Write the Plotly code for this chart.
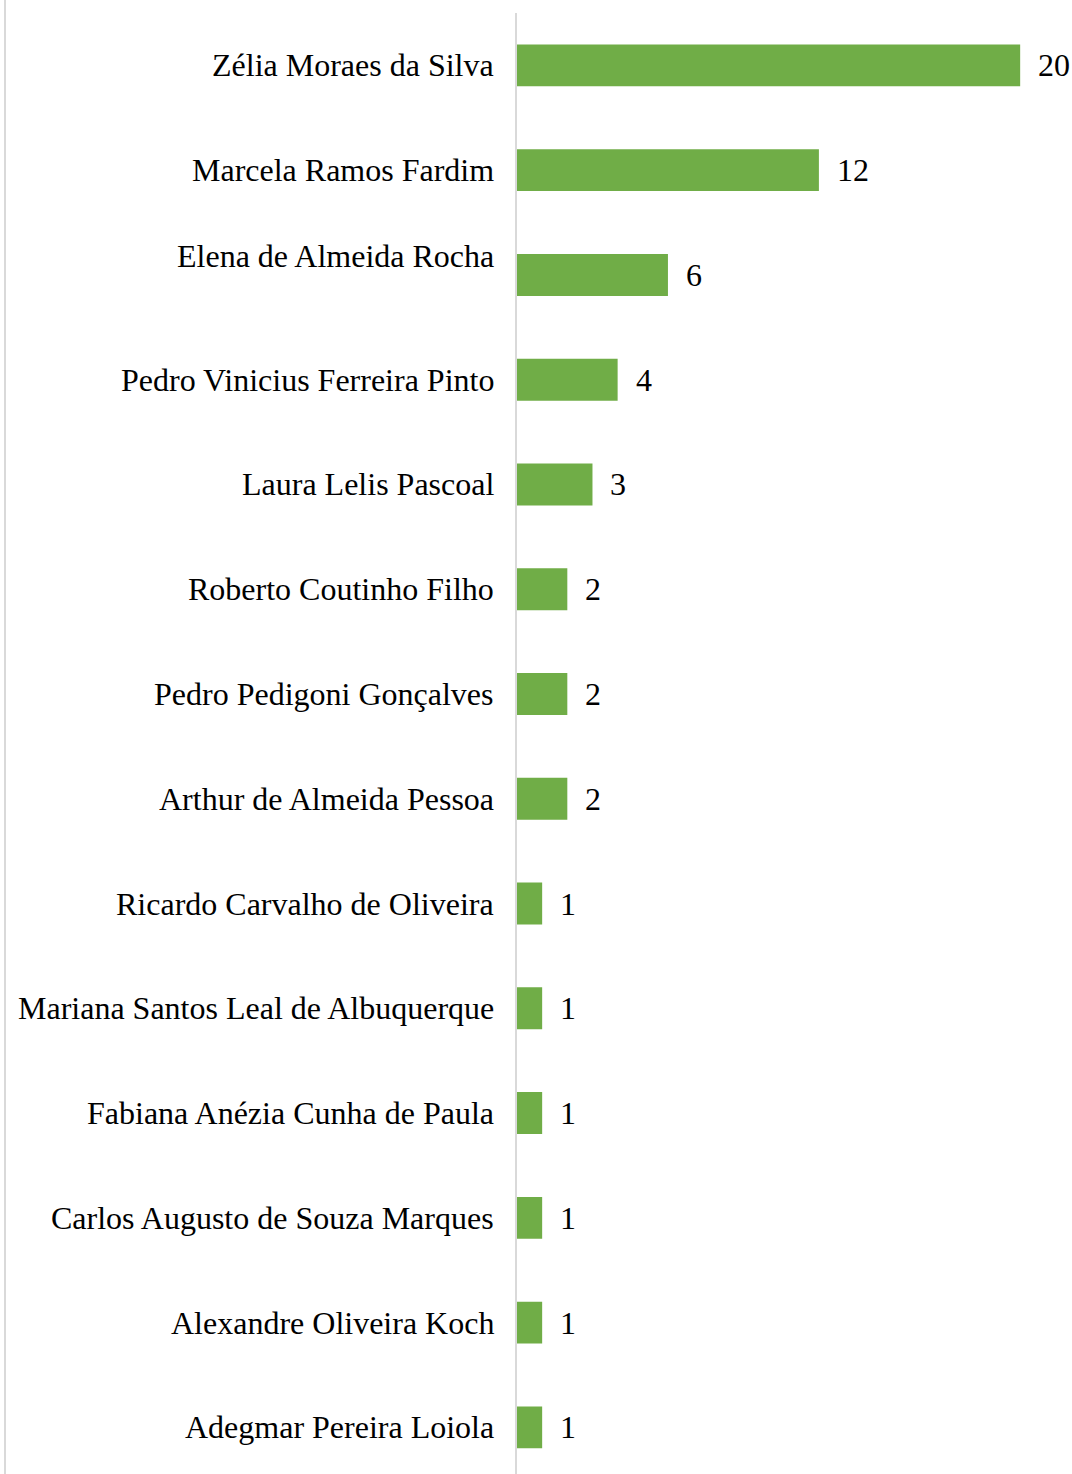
import plotly.graph_objects as go

names = [
    "Zélia Moraes da Silva",
    "Marcela Ramos Fardim",
    "Elena de Almeida Rocha",
    "Pedro Vinicius Ferreira Pinto",
    "Laura Lelis Pascoal",
    "Roberto Coutinho Filho",
    "Pedro Pedigoni Gonçalves",
    "Arthur de Almeida Pessoa",
    "Ricardo Carvalho de Oliveira",
    "Mariana Santos Leal de Albuquerque",
    "Fabiana Anézia Cunha de Paula",
    "Carlos Augusto de Souza Marques",
    "Alexandre Oliveira Koch",
    "Adegmar Pereira Loiola",
]
counts = [20, 12, 6, 4, 3, 2, 2, 2, 1, 1, 1, 1, 1, 1]

FONT = "Liberation Serif, Times New Roman, serif"
GREEN = "#70AD47"
FS = 32

fig = go.Figure(go.Bar(
    x=counts, y=names, orientation="h",
    marker=dict(color=GREEN, line=dict(width=0)),
    width=0.4,
))

# value labels
for n, c in zip(names, counts):
    fig.add_annotation(x=c, y=n, xref="x", yref="y", text=str(c),
                       showarrow=False, xanchor="left", xshift=16,
                       font=dict(family=FONT, size=FS, color="black"))

# category labels (the "Elena" label sits slightly higher in the original)
label_shift = {"Elena de Almeida Rocha": 19}
for n in names:
    fig.add_annotation(x=0, y=n, xref="paper", yref="y", text=n,
                       showarrow=False, xanchor="right", xshift=-21,
                       yshift=label_shift.get(n, 0),
                       font=dict(family=FONT, size=FS, color="black"))

# left border line
fig.add_shape(type="line", xref="paper", yref="paper",
              x0=-512/555, x1=-512/555, y0=0, y1=1.01,
              line=dict(color="#D9D9D9", width=2))

fig.update_layout(
    width=1072, height=1474,
    margin=dict(l=517, r=0, t=13, b=0),
    plot_bgcolor="white", paper_bgcolor="white",
    showlegend=False,
    xaxis=dict(range=[0, 22.06], visible=False, showgrid=False, zeroline=False),
    yaxis=dict(range=[13.445, -0.5], showticklabels=False, showgrid=False,
               zeroline=False, showline=True, linecolor="#D9D9D9",
               linewidth=2, ticks=""),
)

fig.write_html("out.html", config={"displayModeBar": False},
               post_script="document.body.style.margin='0';")
